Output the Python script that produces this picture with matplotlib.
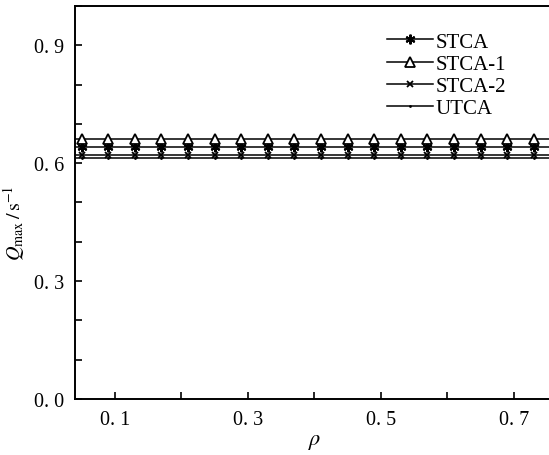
import matplotlib
matplotlib.use("Agg")
import matplotlib.pyplot as plt

# densidade (rho) e fluxo maximo de cada modelo
rho = [0.01, 0.05, 0.09, 0.13, 0.17, 0.21, 0.25, 0.29, 0.33, 0.37,
       0.41, 0.45, 0.49, 0.53, 0.57, 0.61, 0.65, 0.69, 0.73, 0.77]
q_stca = [0.640] * len(rho)
q_stca1 = [0.661] * len(rho)
q_stca2 = [0.621] * len(rho)
q_utca = [0.612] * len(rho)

x_ticks = [0.1, 0.2, 0.3, 0.4, 0.5, 0.6, 0.7]
x_labels = ["0. 1", "", "0. 3", "", "0. 5", "", "0. 7"]
y_ticks = [0.0, 0.1, 0.2, 0.3, 0.4, 0.5, 0.6, 0.7, 0.8, 0.9, 1.0]
y_labels = ["0. 0", "", "", "0. 3", "", "", "0. 6", "", "", "0. 9", ""]

plt.rcParams["font.family"] = ["Liberation Serif", "DejaVu Serif"]
plt.rcParams["mathtext.fontset"] = "stix"

fig = plt.figure(figsize=(5.49, 4.56), dpi=100)
ax = fig.add_axes([0.1366, 0.1228, 0.872, 0.862])

ax.plot(rho, q_stca, color="k", lw=1.1, marker=(6, 2, 0), ms=7, mew=1.5,
        label="STCA")
ax.plot(rho, q_stca1, color="k", lw=1.1, marker="^", ms=7, mfc="white",
        mew=1.3, label="STCA-1")
ax.plot(rho, q_stca2, color="k", lw=1.1, marker="x", ms=4.5, mew=1.3,
        label="STCA-2")
ax.plot(rho, q_utca, color="k", lw=1.1, marker=".", ms=2, label="UTCA")

ax.set_xlim(0.04, 0.76)
ax.set_ylim(0.0, 1.0)
ax.set_xticks(x_ticks)
ax.set_xticklabels(x_labels)
ax.set_yticks(y_ticks)
ax.set_yticklabels(y_labels)
ax.tick_params(direction="in", length=5, width=1.2, labelsize=14.5, pad=8)

for s in ax.spines.values():
    s.set_linewidth(1.4)

ax.set_xlabel(r"$\rho$", fontsize=16, labelpad=2)
ax.set_ylabel(r"$Q_{\mathrm{max}}\,/\,\mathrm{s}^{-1}$", fontsize=14.5)
ax.yaxis.set_label_coords(-0.1, 0.45)

ax.legend(loc="upper left", bbox_to_anchor=(0.625, 0.965), frameon=False,
          fontsize=15, handlelength=2.2, handletextpad=0.15,
          labelspacing=0.12, borderaxespad=0.2)

fig.savefig("out.png", dpi=100)
